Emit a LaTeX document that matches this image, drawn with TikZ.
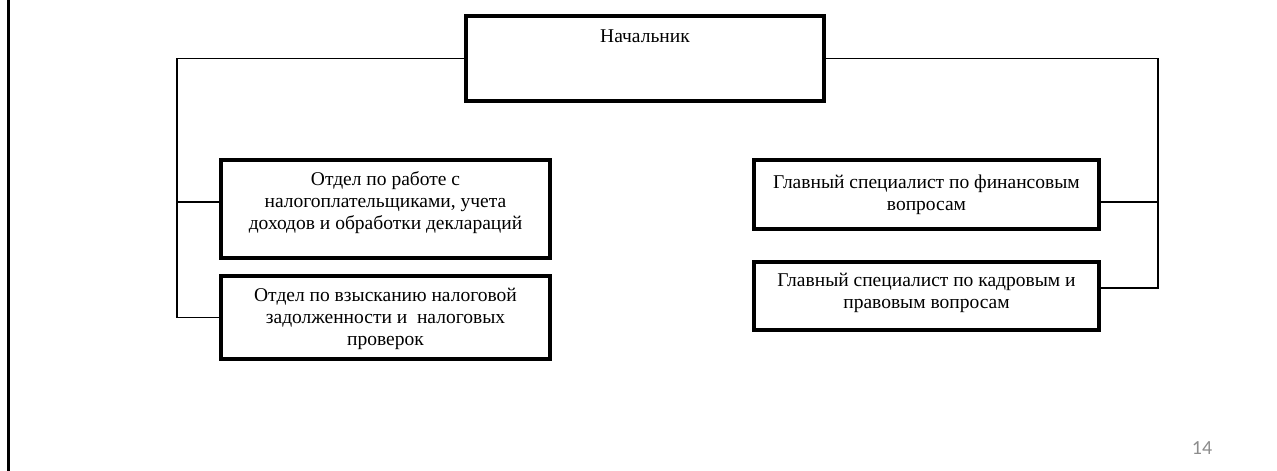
\documentclass[tikz,border=0pt]{standalone}
\usepackage{fontspec}
\setmainfont{Liberation Serif}
\newfontfamily\pageNumFont{Carlito}
\usetikzlibrary{calc, positioning}
\definecolor{pageGray}{HTML}{8C8C8C}

\tikzset{
  orgBox/.style = {draw, line width=4pt, inner xsep=0pt, inner ysep=0pt,
    align=center, font=\fontsize{19.5}{22}\selectfont},
  busLine/.style = {line width=1.1pt},
  pageNum/.style = {font=\pageNumFont\fontsize{20}{24}\selectfont, text=pageGray}
}

\begin{document}
\begin{tikzpicture}[x=1pt, y=-1pt]
  \useasboundingbox (0,0) rectangle (1277,471);
  \draw[line width=2.7pt] (8.7,0) -- (8.7,471);

  \node[orgBox, minimum width=358, text height=26.85, text depth=58.15] (boss) at (645,58.5) {Начальник};

  \edef\leftW{329}
  \node[orgBox, minimum width=\leftW, text height=69.75, text depth=28.25] (deptWork) at (385.5,209) {Отдел по работе с\\налогоплательщиками, учета\\доходов и обработки деклараций};
  \node[orgBox, minimum width=\leftW, text height=69.75, text depth=13.25] (deptDebt) at (385.5,317.5) {Отдел по взысканию налоговой\\задолженности и~~налоговых\\проверок};

  \edef\rightW{345}
  \node[orgBox, minimum width=\rightW, text height=50.05, text depth=18.95] (chiefFin) at (926.5,194.5) {Главный специалист по финансовым\\вопросам};
  \node[orgBox, minimum width=\rightW, text height=46.45, text depth=21.55] (chiefHR) at (926.5,296) {Главный специалист по кадровым и\\правовым вопросам};

  \coordinate (leftBus) at (177,58.5);
  \coordinate (rightBus) at (1158,58.5);
  \draw[busLine] (boss.west) -- (leftBus) |- ([yshift=7pt]deptWork.west);
  \draw[busLine] (leftBus) |- (deptDebt.west);
  \draw[busLine] (boss.east) -- (rightBus) |- ([yshift=-7.5pt]chiefFin.east);
  \draw[busLine] (rightBus) |- ([yshift=8pt]chiefHR.east);

  \node[pageNum, anchor=base] (pageNo) at (1202,454) {14};
\end{tikzpicture}
\end{document}
